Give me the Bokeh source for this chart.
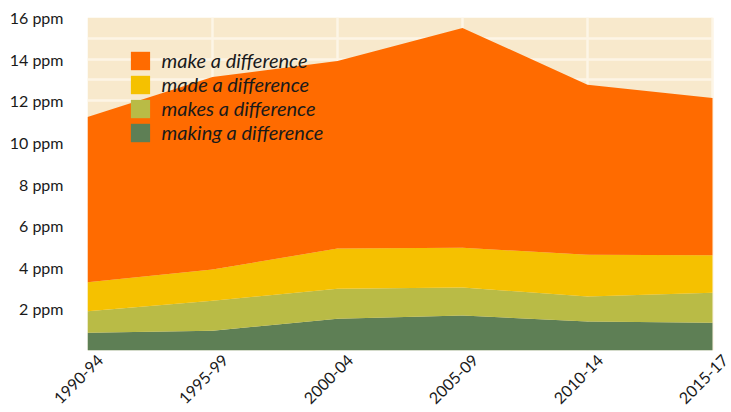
from math import pi
from bokeh.plotting import figure
from bokeh.models import (Range1d, FixedTicker, Legend, LegendItem,
                          LinearAxis, BoxAnnotation, ColumnDataSource)
from bokeh.embed import file_html
from bokeh.resources import INLINE

# ---- data (ppm) ----
periods = ["1990-94", "1995-99", "2000-04", "2005-09", "2010-14", "2015-17"]
making_a_difference = [0.85, 0.95, 1.52, 1.68, 1.39, 1.33]
makes_a_difference = [1.03, 1.44, 1.45, 1.35, 1.20, 1.44]
made_a_difference = [1.40, 1.50, 1.93, 1.91, 2.01, 1.81]
make_a_difference = [7.94, 9.25, 9.01, 10.56, 8.17, 7.55]
series_labels = ["making a difference", "makes a difference",
                 "made a difference", "make a difference"]
y_tick_values = [2, 4, 6, 8, 10, 12, 14, 16]
y_tick_labels = ["2 ppm", "4 ppm", "6 ppm", "8 ppm", "10 ppm", "12 ppm",
                 "14 ppm", "16 ppm"]

colors = ["#5E7F55", "#B9BB46", "#F5C100", "#FF6B00"]
BEIGE = "#F8E9CC"
GRID = "#FDF5E6"
FONT = "Lato"
TXT = "#1a1a1a"

W, H = 731, 412
LEFT, RIGHT, TOP, BOTTOM = 87, 19, 17, 62
YMAX = 16

xs = list(range(len(periods)))
src = ColumnDataSource(dict(
    x=xs,
    making=making_a_difference,
    makes=makes_a_difference,
    made=made_a_difference,
    make=make_a_difference,
))

n = len(periods) - 1
unit = (W - LEFT - RIGHT) / n          # pixels per period
xend = n + RIGHT / unit                 # frame reaches the right edge
p = figure(width=W, height=H, output_backend="svg", toolbar_location=None,
           x_range=Range1d(0, xend), y_range=Range1d(0, YMAX),
           min_border_left=LEFT, min_border_right=0, min_border_top=TOP,
           min_border_bottom=BOTTOM)
p.background_fill_color = "white"
p.border_fill_color = "white"
p.outline_line_color = None

# beige plotting area (only over the data span)
bg = BoxAnnotation(left=0, right=n, bottom=0, top=YMAX, fill_color=BEIGE,
                   fill_alpha=1, line_color=None, level="underlay")

renderers = p.varea_stack(stackers=["making", "makes", "made", "make"], x="x",
                          color=colors, source=src)

# grids
p.xgrid.ticker = FixedTicker(ticks=xs)
p.ygrid.ticker = FixedTicker(ticks=list(range(0, YMAX + 1)))
for g in (p.xgrid, p.ygrid):
    g.grid_line_color = GRID
    g.grid_line_width = 2.5
if "cross_bounds" in p.ygrid.properties():
    p.ygrid.cross_bounds = (0, n)
    p.xgrid.cross_bounds = (0, YMAX)
p.center = [bg] + list(p.center)

# y axis
ya = p.yaxis[0]
ya.ticker = FixedTicker(ticks=y_tick_values)
ya.major_label_overrides = {v: l for v, l in zip(y_tick_values, y_tick_labels)}
ya.axis_line_color = None
ya.major_tick_line_color = None
ya.minor_tick_line_color = None
ya.major_tick_out = 0
ya.major_label_standoff = 24
ya.major_label_text_font = FONT
ya.major_label_text_font_size = "16px"
ya.major_label_text_color = TXT

# x axis: rotated labels, shifted so that each label is centred on its period
p.xaxis.visible = False
shift = 13 / unit
p.extra_x_ranges = {"lbl": Range1d(-shift, xend - shift)}
xa = LinearAxis(x_range_name="lbl",
                ticker=FixedTicker(ticks=xs),
                major_label_overrides={i: t for i, t in zip(xs, periods)},
                major_label_orientation=pi / 4,
                axis_line_color=None, major_tick_line_color=None,
                minor_tick_line_color=None, major_tick_out=0,
                major_tick_in=0, major_label_standoff=7,
                major_label_text_font=FONT,
                major_label_text_font_size="16px",
                major_label_text_color=TXT)
p.add_layout(xa, "below")

# legend
items = [LegendItem(label=series_labels[i], renderers=[renderers[i]])
         for i in (3, 2, 1, 0)]
leg = Legend(items=items, location=(40.6, 206), padding=0, margin=0,
             spacing=0, glyph_width=24, glyph_height=23, label_height=23,
             label_standoff=10, background_fill_alpha=0,
             border_line_color=None, label_text_font=FONT,
             label_text_font_style="italic", label_text_font_size="20px",
             label_text_color=TXT)
p.add_layout(leg, "center")

open("out.html", "w").write(file_html(p, INLINE))
